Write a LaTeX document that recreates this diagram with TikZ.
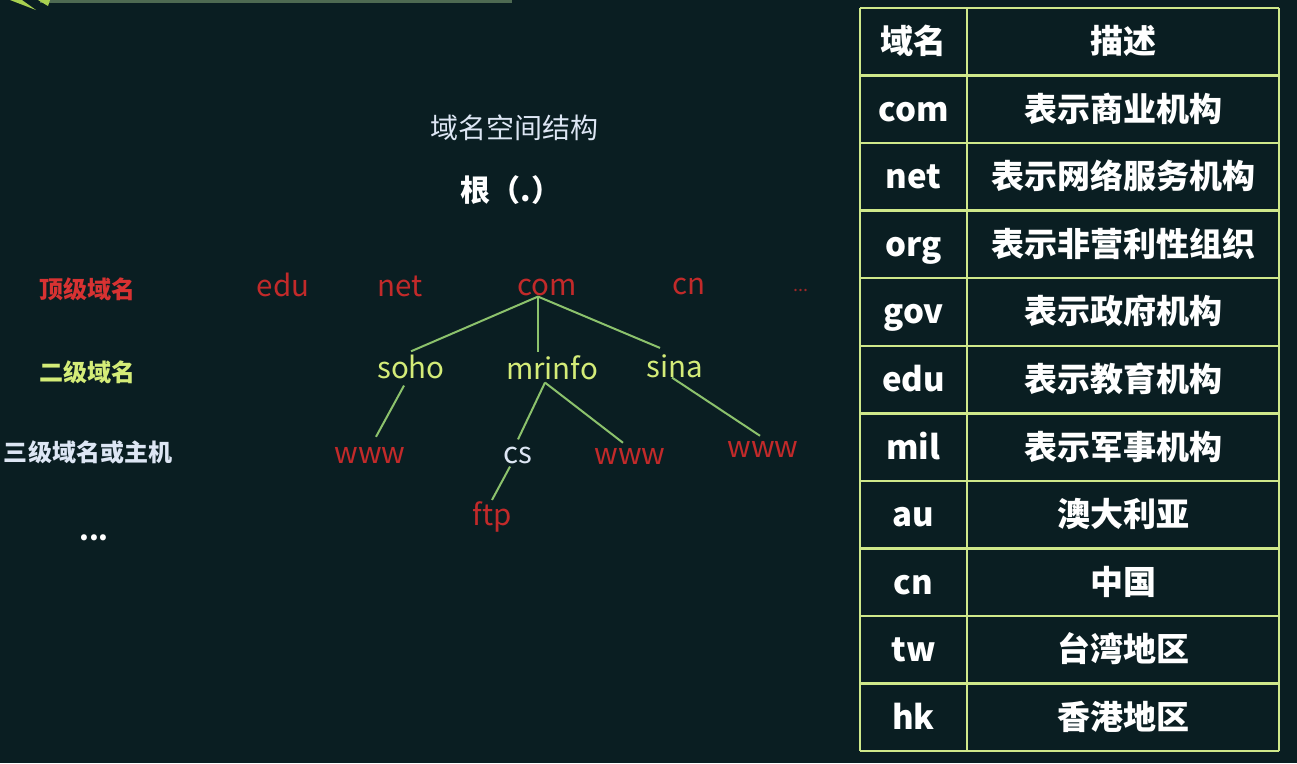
\documentclass[tikz,border=0pt]{standalone}
\usepackage{fontspec}
\setmainfont{Noto Sans CJK SC}
\definecolor{bg}{HTML}{0A1E22}
\definecolor{tred}{HTML}{C22A2A}
\definecolor{lred}{HTML}{D83232}
\definecolor{ygreen}{HTML}{D4EC78}
\definecolor{paleblue}{HTML}{DDE6F4}
\definecolor{linegreen}{HTML}{8CC26C}
\definecolor{tabline}{HTML}{CFE88A}
\definecolor{decobar}{HTML}{4E6A52}
\definecolor{decogreen}{HTML}{A8D050}
\tikzset{
  treefont/.style={font=\fontsize{29.5}{29.5}\selectfont, inner sep=1pt, anchor=base},
  tld/.style={treefont, text=tred},
  sld/.style={treefont, text=ygreen},
  host/.style={treefont, text=tred},
  hostw/.style={treefont, text=paleblue},
  levellbl/.style={font=\bfseries\fontsize{24}{24}\selectfont, inner sep=0pt},
  cell/.style={font=\bfseries\fontsize{33}{33}\selectfont, text=white, inner sep=0pt, anchor=base},
  edge/.style={draw=linegreen, line width=2pt},
  tab/.style={draw=tabline, line width=2.5pt},
}
\begin{document}
\begin{tikzpicture}[x=1pt,y=-1pt]
\fill[bg] (0,0) rectangle (1297,763);
\useasboundingbox (0,0) rectangle (1297,763);
% top-left decoration
\fill[decobar] (40,0) rectangle (512,3);
\fill[decogreen] (10,0) -- (22,0) -- (36,10) -- cycle;
\fill[decogreen] (38,0) -- (50,0) -- (48,6) -- cycle;
% titles
\node[font=\fontsize{28}{28}\selectfont, text=paleblue, inner sep=0pt] (title) at (514,128) {域名空间结构};
\node[font=\bfseries\fontsize{30}{30}\selectfont, text=white, inner sep=0pt] (root) at (511,190) {根（.）};
% level labels
\node[levellbl, text=lred] (l1) at (87,289) {顶级域名};
\node[levellbl, text=ygreen] (l2) at (87,372) {二级域名};
\node[levellbl, text=paleblue] (l3) at (88,452) {三级域名或主机};
\node[font=\bfseries\fontsize{28}{28}\selectfont, text=white, inner sep=0pt] (l4) at (94,538) {...};
% top level
\node[tld] (edu) at (283,296) {edu};
\node[tld] (net) at (400,296) {net};
\node[tld] (com) at (547,295) {com};
\node[tld] (cn) at (689,294) {cn};
\node[font=\fontsize{18}{18}\selectfont, text=tred!80!bg, inner sep=0pt] (dots) at (801,290) {...};
% second level
\node[sld] (soho) at (411,378) {soho};
\node[sld] (mrinfo) at (552,379) {mrinfo};
\node[sld] (sina) at (675,377) {sina};
% third level
\node[host] (w1) at (370,463) {www};
\node[hostw] (cs) at (518,463) {cs};
\node[host] (w2) at (630,464) {www};
\node[host] (w3) at (763,457) {www};
\node[host] (ftp) at (492,525) {ftp};
% edges
\draw[edge] ([xshift=-9pt]com.south) -- ([yshift=2pt]soho.north);
\draw[edge] ([xshift=-9pt]com.south) -- ([xshift=-14pt,yshift=2pt]mrinfo.north);
\draw[edge] ([xshift=-9pt]com.south) -- ([xshift=-15pt,yshift=5pt]sina.north);
\draw[edge] ([xshift=-7pt,yshift=-6pt]soho.south) -- ([xshift=6pt,yshift=9pt]w1.north);
\draw[edge] ([xshift=-7pt,yshift=-2pt]mrinfo.south) -- ([yshift=6pt]cs.north);
\draw[edge] ([xshift=-7pt,yshift=-2pt]mrinfo.south) -- ([xshift=-7pt,yshift=4pt]w2.north);
\draw[edge] ([xshift=-3pt,yshift=1pt]sina.south) -- ([xshift=-3pt,yshift=4pt]w3.north);
\draw[edge] ([xshift=-8pt,yshift=-2pt]cs.south) -- (ftp.north);
% table
\foreach \i in {0,...,10}{\draw[tab] (860,{8+67.55*\i}) -- (1279,{8+67.55*\i});}
\draw[tab] (860,751) -- (1279,751);
\draw[tab] (860,8) -- (860,751);
\draw[tab] (967,8) -- (967,751);
\draw[tab] (1279,8) -- (1279,751);
\foreach \a/\b [count=\i from 0] in {域名/描述,com/表示商业机构,net/表示网络服务机构,org/表示非营利性组织,gov/表示政府机构,edu/表示教育机构,mil/表示军事机构,au/澳大利亚,cn/中国,tw/台湾地区,hk/香港地区}{
  \node[cell] (k\i) at (913.5,{8+67.55*(\i+0.5)+12}) {\a};
  \node[cell] (v\i) at (1123,{8+67.55*(\i+0.5)+12}) {\b};
}
\end{tikzpicture}
\end{document}
